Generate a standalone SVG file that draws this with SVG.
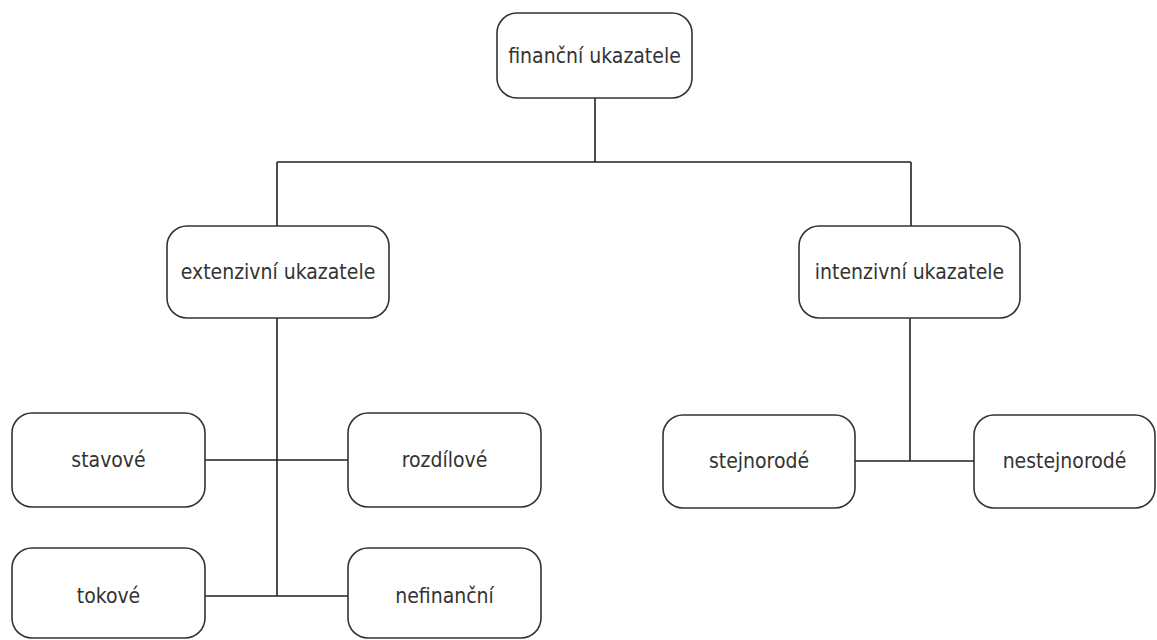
<svg xmlns="http://www.w3.org/2000/svg" width="1157" height="640" viewBox="0 0 1157 640">
<style>
.box{fill:#fff;stroke:#333;stroke-width:1.6}
.lbl{font-family:"DejaVu Sans Condensed","Liberation Sans",Arial,sans-serif;font-stretch:condensed;font-size:21px;fill:#333;text-anchor:middle}
.con{stroke:#222;stroke-width:1.6;fill:none}
</style>
<rect width="1157" height="640" fill="#fff"/>
<g id="connectors">
<path class="con" d="M595 98V162M277 162H911M277 162V226M911 162V226"/>
<path class="con" d="M277 318V596M205 460H348M205 596H348"/>
<path class="con" d="M910 318V461M855 461H974"/>
</g>
<g id="n-financni"><rect class="box" x="497" y="13" width="195" height="85" rx="20"/><text class="lbl" x="594.5" y="63">finanční ukazatele</text></g>
<g id="n-extenzivni"><rect class="box" x="167" y="226" width="222" height="92" rx="20"/><text class="lbl" x="278" y="279">extenzivní ukazatele</text></g>
<g id="n-intenzivni"><rect class="box" x="799" y="226" width="221" height="92" rx="20"/><text class="lbl" x="909.5" y="279">intenzivní ukazatele</text></g>
<g id="n-stavove"><rect class="box" x="12" y="413" width="193" height="94" rx="20"/><text class="lbl" x="108.5" y="467">stavové</text></g>
<g id="n-rozdilove"><rect class="box" x="348" y="413" width="193" height="94" rx="20"/><text class="lbl" x="444.5" y="467">rozdílové</text></g>
<g id="n-tokove"><rect class="box" x="12" y="548" width="193" height="90" rx="20"/><text class="lbl" x="108.5" y="603">tokové</text></g>
<g id="n-nefinancni"><rect class="box" x="348" y="548" width="193" height="90" rx="20"/><text class="lbl" x="444.5" y="603">nefinanční</text></g>
<g id="n-stejnorode"><rect class="box" x="663" y="415" width="192" height="93" rx="20"/><text class="lbl" x="759" y="468">stejnorodé</text></g>
<g id="n-nestejnorode"><rect class="box" x="974" y="415" width="181" height="93" rx="20"/><text class="lbl" x="1064.5" y="468">nestejnorodé</text></g>
</svg>
